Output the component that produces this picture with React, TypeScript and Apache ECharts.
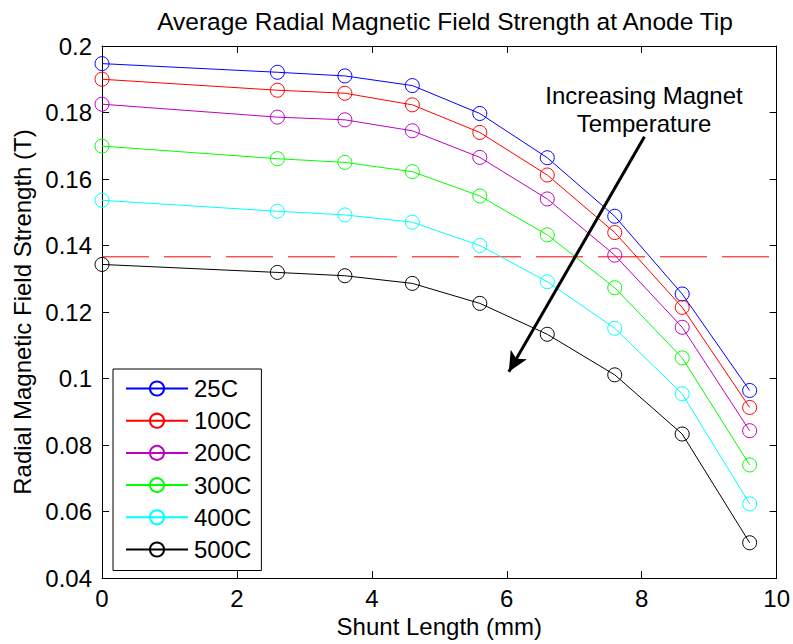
import React, { useEffect, useRef } from "react";
import * as echarts from "echarts";

const shuntLength = [0, 2.6, 3.6, 4.6, 5.6, 6.6, 7.6, 8.6, 9.6];
const seriesNames = ["25C", "100C", "200C", "300C", "400C", "500C"];
const seriesColors = ["#0000ff", "#ff0000", "#bf00bf", "#00ff00", "#00ffff", "#000000"];
const field25 = [0.1947, 0.1921, 0.191, 0.1881, 0.1797, 0.1664, 0.1488, 0.1254, 0.0964];
const field100 = [0.19, 0.1867, 0.1858, 0.1823, 0.174, 0.1612, 0.1439, 0.1214, 0.0913];
const field200 = [0.1825, 0.1786, 0.1778, 0.1745, 0.1665, 0.154, 0.1371, 0.1154, 0.0843];
const field300 = [0.1699, 0.1661, 0.165, 0.1622, 0.1549, 0.1432, 0.1273, 0.1062, 0.074];
const field400 = [0.1536, 0.1503, 0.1492, 0.147, 0.14, 0.1291, 0.1151, 0.0954, 0.0623];
const field500 = [0.1343, 0.1319, 0.1309, 0.1286, 0.1226, 0.1133, 0.1011, 0.0833, 0.0506];
const allFields = [field25, field100, field200, field300, field400, field500];
const dashedLevel = 0.1366;
const dashedRange = [0, 10];
const arrowStart = [8.04, 0.1727];
const arrowEnd = [6.03, 0.102];
const annotationText = "Increasing Magnet\nTemperature";

const FONT = "'Liberation Sans', Arial, Helvetica, sans-serif";

export default function App() {
  const ref = useRef<HTMLDivElement>(null);
  useEffect(() => {
    if (!ref.current) return;
    const chart = echarts.init(ref.current, null, { renderer: "svg" });
    const series: any[] = allFields.map((vals, i) => ({
      name: seriesNames[i],
      type: "line",
      data: vals.map((v, j) => [shuntLength[j], v]),
      symbol: "circle",
      symbolSize: 14,
      color: seriesColors[i],
      itemStyle: { color: "transparent", borderColor: seriesColors[i], borderWidth: 1 },
      lineStyle: { color: seriesColors[i], width: 1 },
      emphasis: { disabled: true },
      z: 3,
    }));
    // dashed reference level
    series.push({
      name: "level",
      type: "line",
      data: dashedRange.map((x) => [x, dashedLevel]),
      symbol: "none",
      color: "#ff0000",
      lineStyle: { color: "#ff0000", width: 1, type: [47, 15] },
      emphasis: { disabled: true },
      silent: true,
      z: 2,
    });
    // arrow, on the black series
    series[5].markLine = {
      silent: true,
      animation: false,
      precision: 6,
      symbol: ["none", "arrow"],
      symbolSize: [14, 20],
      label: { show: false },
      emphasis: { disabled: true },
      lineStyle: { color: "#000000", width: 3, type: "solid", opacity: 1 },
      itemStyle: { color: "#000000" },
      data: [[{ coord: arrowStart }, { coord: arrowEnd }]],
    };
    const axisCommon = {
      axisLine: { show: true, onZero: false, lineStyle: { color: "#000", width: 1 } },
      axisTick: { show: true, inside: true, length: 7, lineStyle: { color: "#000", width: 1 } },
      splitLine: { show: false },
    };
    chart.setOption({
      animation: false,
      backgroundColor: "#fff",
      textStyle: { fontFamily: FONT },
      title: {
        text: "Average Radial Magnetic Field Strength at Anode Tip",
        left: 440,
        textAlign: "center",
        top: 4,
        textStyle: { fontFamily: FONT, fontSize: 24.5, fontWeight: "normal", color: "#000" },
      },
      grid: { left: 102, top: 46, width: 675, height: 532 },
      legend: {
        left: 113,
        top: 369,
        orient: "vertical",
        padding: [7.5, 10, 9, 12],
        itemWidth: 62,
        itemHeight: 17.5,
        itemGap: 8.2,
        backgroundColor: "#fff",
        borderColor: "#000",
        borderWidth: 1,
        borderRadius: 0,
        selectedMode: false,
        textStyle: { fontFamily: FONT, fontSize: 24, color: "#000", padding: [0, 0, 0, 1] },
        data: seriesNames,
      },
      xAxis: [
        {
          type: "value",
          min: 0,
          max: 10,
          interval: 2,
          position: "bottom",
          name: "Shunt Length (mm)",
          nameLocation: "middle",
          nameGap: 36,
          nameTextStyle: { fontFamily: FONT, fontSize: 24, color: "#000" },
          axisLabel: { fontFamily: FONT, fontSize: 24, color: "#000", margin: 8 },
          ...axisCommon,
        },
        {
          type: "value",
          min: 0,
          max: 10,
          interval: 2,
          position: "top",
          axisLabel: { show: false },
          ...axisCommon,
        },
      ],
      yAxis: [
        {
          type: "value",
          min: 0.04,
          max: 0.2,
          interval: 0.02,
          position: "left",
          name: "Radial Magnetic Field Strength (T)",
          nameLocation: "middle",
          nameGap: 65,
          nameTextStyle: { fontFamily: FONT, fontSize: 24, color: "#000" },
          axisLabel: {
            fontFamily: FONT,
            fontSize: 24,
            color: "#000",
            margin: 10,
            formatter: (v: number) => String(parseFloat(v.toFixed(3))),
          },
          ...axisCommon,
        },
        {
          type: "value",
          min: 0.04,
          max: 0.2,
          interval: 0.02,
          position: "right",
          axisLabel: { show: false },
          ...axisCommon,
        },
      ],
      graphic: [
        {
          type: "text",
          x: 644,
          y: 109,
          z: 10,
          style: {
            text: annotationText,
            fontFamily: FONT,
            fontSize: 24,
            lineHeight: 28,
            fill: "#000",
            align: "center",
            verticalAlign: "middle",
          },
        },
      ],
      series,
    });
    return () => chart.dispose();
  }, []);
  return (
    <div
      ref={ref}
      style={{ position: "fixed", left: 0, top: 0, width: 793, height: 644, background: "#fff" }}
    />
  );
}
